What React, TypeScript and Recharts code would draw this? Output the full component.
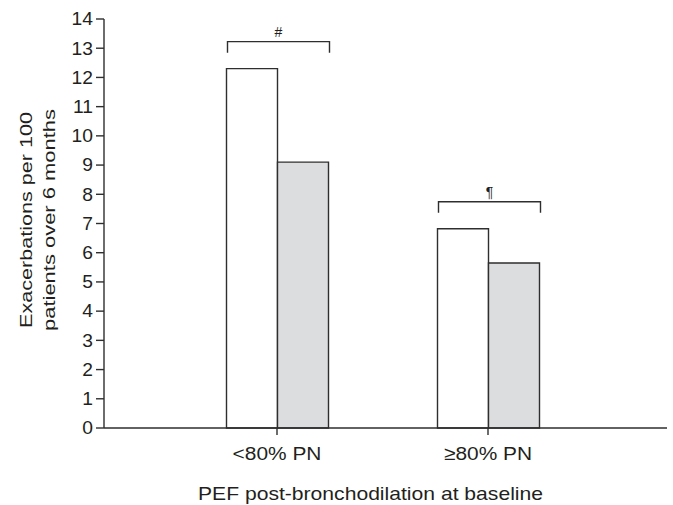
import React from "react";
import { BarChart, Bar, XAxis, YAxis, LabelList } from "recharts";

const categories = ["<80% PN", "≥80% PN"];
const firstSeries = [12.3, 6.82];
const secondSeries = [9.1, 5.65];
const significance = ["#", "¶"];
const yTicks = [0, 1, 2, 3, 4, 5, 6, 7, 8, 9, 10, 11, 12, 13, 14];
const xTitle = "PEF post-bronchodilation at baseline";
const yTitleLines = ["Exacerbations per 100", "patients over 6 months"];

const data = categories.map((c, i) => ({
  category: c,
  first: firstSeries[i],
  second: secondSeries[i],
  sig: significance[i],
}));

const FONT = "'Liberation Sans', Arial, Helvetica, sans-serif";
const INK = "#231f20";
const STROKE = "#2e2e2e";

const XTick = (props: any) => {
  const { x, y, payload } = props;
  return (
    <g transform={`translate(${x},${y})`}>
      <text
        x={0}
        y={0}
        dy={23}
        textAnchor="middle"
        transform="scale(1.1,1)"
        fontFamily={FONT}
        fontSize={19}
        fill={INK}
      >
        {payload.value}
      </text>
    </g>
  );
};

const YTick = (props: any) => {
  const { x, y, payload } = props;
  return (
    <g transform={`translate(${x - 1},${y})`}>
      <text
        x={0}
        y={0}
        dy="0.36em"
        textAnchor="end"
        transform="scale(1.1,1)"
        fontFamily={FONT}
        fontSize={17.5}
        fill={INK}
      >
        {payload.value}
      </text>
    </g>
  );
};

const XTitle = () => (
  <text
    x={370.5}
    y={500}
    textAnchor="middle"
    textLength={345}
    lengthAdjust="spacingAndGlyphs"
    fontFamily={FONT}
    fontSize={18.5}
    fill={INK}
  >
    {xTitle}
  </text>
);

const YTitle = () => (
  <g>
    {yTitleLines.map((line, i) => (
      <text
        key={i}
        transform="rotate(-90)"
        x={-220}
        y={32 + i * 23}
        textAnchor="middle"
        textLength={i === 0 ? 216 : 222}
        lengthAdjust="spacingAndGlyphs"
        fontFamily={FONT}
        fontSize={17}
        fill={INK}
      >
        {line}
      </text>
    ))}
  </g>
);

const Bracket = (props: any) => {
  const { x, y, width, index } = props;
  const left = x + 1;
  const right = x + 2 * width + 1;
  const top = y - 27;
  const sym = data[index]?.sig ?? "";
  return (
    <g>
      <path
        d={`M${left},${top + 11}V${top}H${right}V${top + 11}`}
        fill="none"
        stroke={STROKE}
        strokeWidth={1.4}
      />
      <text
        x={(left + right) / 2}
        y={top - 5}
        textAnchor="middle"
        fontFamily={FONT}
        fontSize={14}
        fill={INK}
      >
        {sym}
      </text>
    </g>
  );
};

export default function App() {
  return (
    <div style={{ position: "absolute", left: 0, top: 0, width: 673, height: 505, background: "#ffffff" }}>
      <BarChart
        width={673}
        height={505}
        data={data}
        margin={{ top: 19, right: 6, left: 0, bottom: 0 }}
        barGap={0}
      >
        <XAxis
          dataKey="category"
          height={77}
          padding={{ left: 67.5, right: 73.5 }}
          tickSize={7}
          tickLine={{ stroke: STROKE, strokeWidth: 1.4 }}
          axisLine={{ stroke: STROKE, strokeWidth: 1.4 }}
          tick={<XTick />}
          interval={0}
          label={<XTitle />}
        />
        <YAxis
          width={104}
          domain={[0, 14]}
          ticks={yTicks}
          interval={0}
          tickSize={8}
          tickLine={{ stroke: STROKE, strokeWidth: 1.4 }}
          axisLine={{ stroke: STROKE, strokeWidth: 1.4 }}
          tick={<YTick />}
          label={<YTitle />}
        />
        <Bar
          dataKey="first"
          barSize={51}
          fill="#ffffff"
          stroke={STROKE}
          strokeWidth={1.4}
          isAnimationActive={false}
        >
          <LabelList dataKey="sig" content={<Bracket />} />
        </Bar>
        <Bar
          dataKey="second"
          barSize={51}
          fill="#dcdddf"
          stroke={STROKE}
          strokeWidth={1.4}
          isAnimationActive={false}
        />
      </BarChart>
    </div>
  );
}
